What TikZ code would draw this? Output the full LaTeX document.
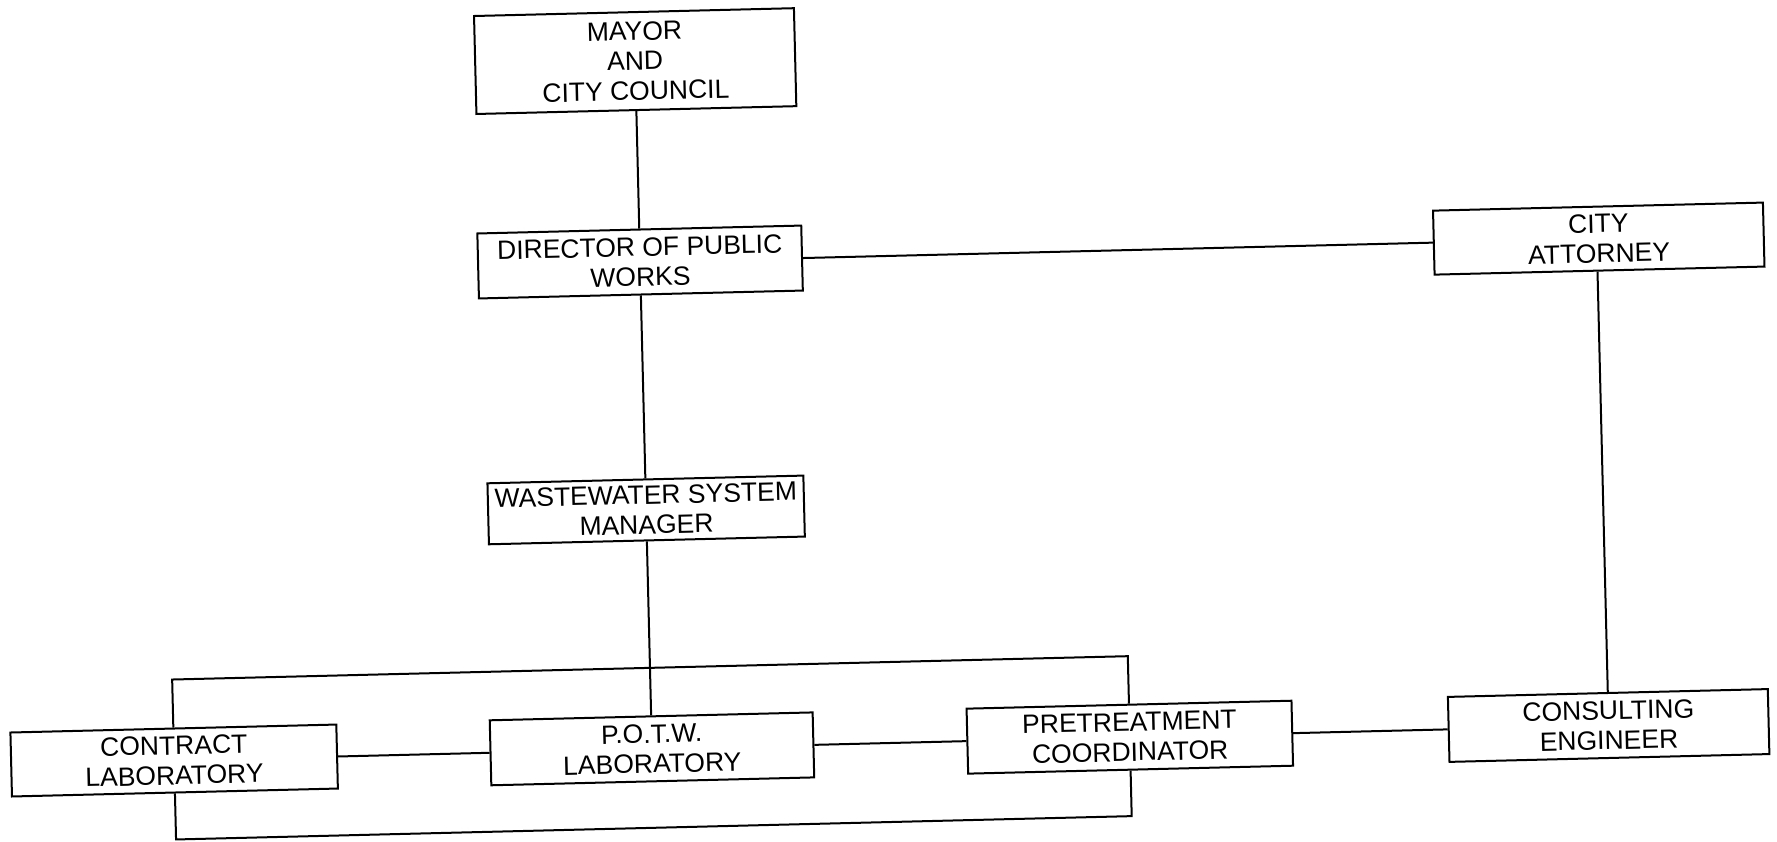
\documentclass[tikz,border=0pt]{standalone}
\usepackage{fontspec}
\setmainfont{Liberation Sans}
\begin{document}
\begin{tikzpicture}[x=1pt,y=-1pt,
  box/.style={draw, line width=2pt, inner sep=0pt, align=center,
    font=\fontsize{26.5}{30}\selectfont, transform shape},
  link/.style={line width=2pt}]
\useasboundingbox (0,0) rectangle (1777,841);
\fill[white] (0,0) rectangle (1777,841);
\begin{scope}[rotate around={1.4:(888,420)}]
  \node[box, minimum width=320pt, minimum height=98pt] (mayor) at (644,55) {MAYOR\\AND\\CITY COUNCIL};
  \node[box, minimum width=324pt, minimum height=65pt] (dir) at (644,256) {DIRECTOR OF PUBLIC\\WORKS};
  \node[box, minimum width=330pt, minimum height=64pt] (att) at (1603,256) {CITY\\ATTORNEY};
  \node[box, minimum width=316pt, minimum height=61pt] (wsm) at (644,504) {WASTEWATER SYSTEM\\MANAGER};
  \node[box, minimum width=326pt, minimum height=64pt] (ctr) at (166,743) {CONTRACT\\LABORATORY};
  \node[box, minimum width=323pt, minimum height=65pt] (potw) at (644,743) {P.O.T.W.\\LABORATORY};
  \node[box, minimum width=325pt, minimum height=65pt] (pre) at (1122,743) {PRETREATMENT\\COORDINATOR};
  \node[box, minimum width=320pt, minimum height=65pt] (eng) at (1601,743) {CONSULTING\\ENGINEER};
  \coordinate (bt) at (644,662);
  \coordinate (bb) at (644,822);
  \draw[link] (mayor) -- (dir);
  \draw[link] (dir) -- (att);
  \draw[link] (dir) -- (wsm);
  \draw[link] (wsm) -- (potw);
  \draw[link] (att.south -| eng.north) -- (eng.north);
  \draw[link] (ctr) -- (potw);
  \draw[link] (potw) -- (pre);
  \draw[link] (pre) -- (eng);
  \draw[link] (ctr.north) |- (bt) -| (pre.north);
  \draw[link] (ctr.south) |- (bb) -| (pre.south);
\end{scope}
\end{tikzpicture}
\end{document}
